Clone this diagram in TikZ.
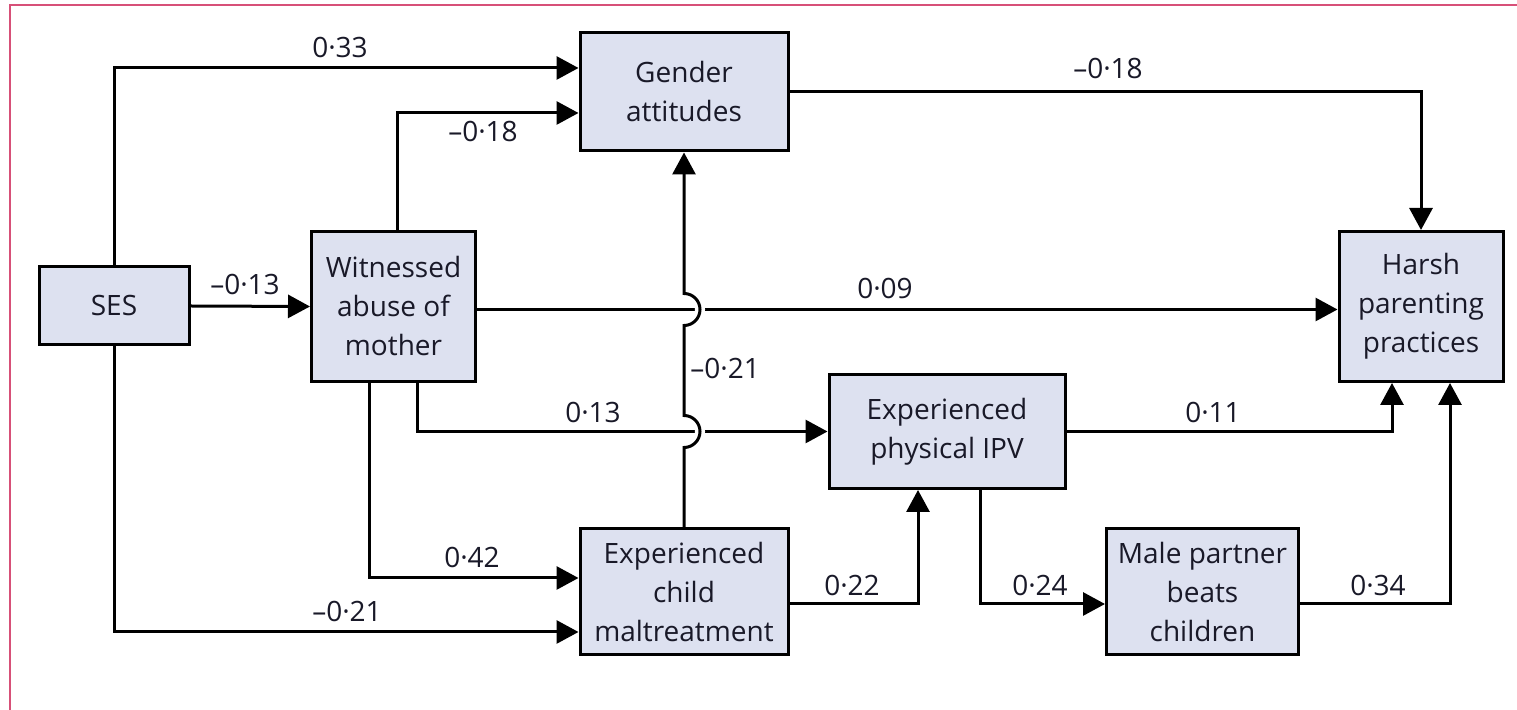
\documentclass[tikz,border=0pt]{standalone}
\usepackage{fontspec}
\setmainfont{Open Sans}
\usetikzlibrary{arrows.meta,calc,backgrounds}
\definecolor{boxfill}{RGB}{221,225,240}
\definecolor{framecol}{RGB}{215,80,120}
\definecolor{textcol}{RGB}{25,25,40}

\begin{document}
\begin{tikzpicture}[x=0.5pt, y=-0.5pt,
    box/.style={draw, line width=1.5pt, fill=boxfill, align=center, text=textcol,
        inner sep=0pt, font=\fontsize{14}{19.5}\selectfont},
    lbl/.style={text=textcol, inner sep=0pt, font=\fontsize{14}{19.5}\selectfont},
    arr/.style={line width=1.5pt, -{Triangle[length=11pt, width=11.5pt]}}]
    \useasboundingbox (0,0) rectangle (1517,710);
    \draw[framecol, line width=1pt] (1517,5) -- (10,5) -- (10,710);

    \node[box, minimum width=75pt, minimum height=39pt] (ses) at (114, 306) {SES};
    \node[box, minimum width=82pt, minimum height=75pt] (wit) at (393.5, 306.5) {Witnessed\\abuse of\\mother};
    \node[box, minimum width=104pt, minimum height=59pt] (gen) at (684, 92) {Gender\\attitudes};
    \node[box, minimum width=82pt, minimum height=75pt] (harsh) at (1421, 306.5) {Harsh\\parenting\\practices};
    \node[box, minimum width=118pt, minimum height=57pt] (ipv) at (947, 431.5) {Experienced\\physical IPV};
    \node[box, minimum width=104pt, minimum height=63pt] (cm) at (684, 592) {Experienced\\child\\maltreatment};
    \node[box, minimum width=96pt, minimum height=63pt] (male) at (1202.5, 592) {Male partner\\beats\\children};

    \begin{scope}[on background layer]
    \draw[arr] (ses.north) |- ([yshift=12pt]gen.west);
    \draw[arr] ([xshift=2pt]wit.north) |- ([yshift=-10.5pt]gen.west);
    \draw[arr] (ses.east) -- (wit.west);
    \draw[arr] ([yshift=-1.5pt]wit.east) -- ([yshift=-1.5pt]harsh.west);
    \draw[arr] ([xshift=12pt]wit.south) |- (ipv.west);
    \draw[arr] ([xshift=-12pt]wit.south) |- ([yshift=7pt]cm.west);
    \draw[arr] (ses.south) |- ([yshift=-20pt]cm.west);
    % line from maltreatment jumps over the two horizontal lines
    \draw[arr, preaction={draw=white, line width=5pt, -}] (cm.north)
        -- ($(cm.north |- ipv.west)+(0,-8pt)$) arc[start angle=-90, end angle=90, radius=8pt]
        -- ($(cm.north |- wit.east)+(0,-9.5pt)$) arc[start angle=-90, end angle=90, radius=8pt]
        -- (gen.south);
    \draw[arr] (gen.east) -| (harsh.north);
    \draw[arr] (ipv.east) -| ([xshift=-14.5pt]harsh.south);
    \draw[arr] ([yshift=-6pt]cm.east) -| ([xshift=-14.5pt]ipv.south);
    \draw[arr] ([xshift=16.5pt]ipv.south) |- ([yshift=-6pt]male.west);
    \draw[arr] ([yshift=-6pt]male.east) -| ([xshift=14.5pt]harsh.south);
    \end{scope}

    \node[lbl] (w1) at (340, 47) {0·33};
    \node[lbl] (w2) at (483, 131) {–0·18};
    \node[lbl] (w3) at (245, 284) {–0·13};
    \node[lbl] (w4) at (885, 288) {0·09};
    \node[lbl] (w5) at (593, 412) {0·13};
    \node[lbl, anchor=west] (w6) at (690, 368) {–0·21};
    \node[lbl] (w7) at (472, 557) {0·42};
    \node[lbl] (w8) at (347, 611) {–0·21};
    \node[lbl] (w9) at (1108, 68) {–0·18};
    \node[lbl] (w10) at (1213, 412) {0·11};
    \node[lbl] (w11) at (852, 585) {0·22};
    \node[lbl] (w12) at (1040, 585) {0·24};
    \node[lbl] (w13) at (1378, 585) {0·34};
\end{tikzpicture}
\end{document}
